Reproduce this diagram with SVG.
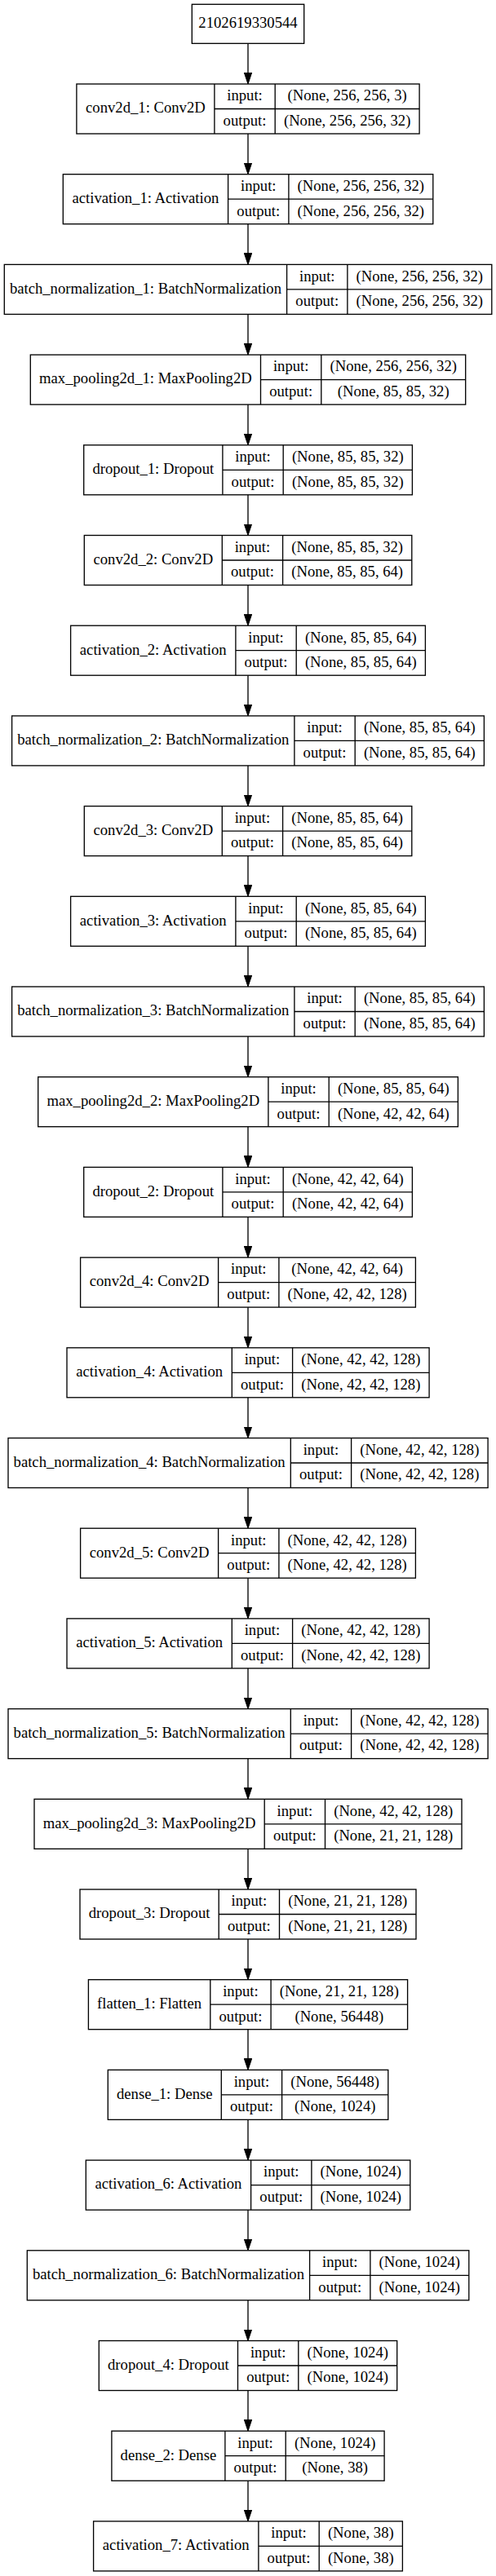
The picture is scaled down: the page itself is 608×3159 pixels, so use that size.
<svg xmlns="http://www.w3.org/2000/svg" width="608" height="3159" viewBox="0 0 608 3159">
<style>
.b{fill:#fff;stroke:#000;stroke-width:1.33}
.d{fill:none;stroke:#000;stroke-width:1.33}
.e{fill:none;stroke:#000;stroke-width:1.33;marker-end:url(#ah)}
text{font-family:"Liberation Serif","Times New Roman",serif;font-size:18.67px;text-anchor:middle;fill:#000}
</style>
<defs>
<marker id="ah" viewBox="0 0 14 10" refX="2" refY="5" markerWidth="14" markerHeight="10" markerUnits="userSpaceOnUse" orient="auto">
<path d="M0,0.3 L14,5 L0,9.7 z" fill="#000" stroke="#000" stroke-width="1"/>
</marker>
</defs>
<rect width="608" height="3159" fill="#fff"/>
<g id="edges">
<path class="e" d="M304 53.3V91"/>
<path class="e" d="M304 164V201.7"/>
<path class="e" d="M304 274.7V312.4"/>
<path class="e" d="M304 385.4V423.1"/>
<path class="e" d="M304 496.1V533.8"/>
<path class="e" d="M304 606.8V644.5"/>
<path class="e" d="M304 717.5V755.2"/>
<path class="e" d="M304 828.2V865.9"/>
<path class="e" d="M304 938.9V976.6"/>
<path class="e" d="M304 1049.6V1087.3"/>
<path class="e" d="M304 1160.3V1198"/>
<path class="e" d="M304 1271V1308.7"/>
<path class="e" d="M304 1381.7V1419.4"/>
<path class="e" d="M304 1492.4V1530.1"/>
<path class="e" d="M304 1603.1V1640.8"/>
<path class="e" d="M304 1713.8V1751.5"/>
<path class="e" d="M304 1824.5V1862.2"/>
<path class="e" d="M304 1935.2V1972.9"/>
<path class="e" d="M304 2045.9V2083.6"/>
<path class="e" d="M304 2156.6V2194.3"/>
<path class="e" d="M304 2267.3V2305"/>
<path class="e" d="M304 2378V2415.7"/>
<path class="e" d="M304 2488.7V2526.4"/>
<path class="e" d="M304 2599.4V2637.1"/>
<path class="e" d="M304 2710.1V2747.8"/>
<path class="e" d="M304 2820.8V2858.5"/>
<path class="e" d="M304 2931.5V2969.2"/>
<path class="e" d="M304 3042.2V3079.9"/>
</g>
<g id="input"><rect class="b" x="235.3" y="5.3" width="137.4" height="48"/><text x="304" y="34.3">2102619330544</text></g>

<g id="conv2d_1"><rect class="b" x="93.9" y="103" width="420.2" height="61"/><path class="d" d="M262.9 103V164M337.2 103V164M262.9 133.5H514.1"/>
<text x="178.4" y="138.3">conv2d_1: Conv2D</text><text x="300.05" y="123.3">input:</text><text x="300.05" y="153.8">output:</text><text x="425.65" y="123.3">(None, 256, 256, 3)</text><text x="425.65" y="153.8">(None, 256, 256, 32)</text></g>

<g id="activation_1"><rect class="b" x="77.3" y="213.7" width="453.5" height="61"/><path class="d" d="M279.6 213.7V274.7M353.9 213.7V274.7M279.6 244.2H530.8"/>
<text x="178.45" y="249">activation_1: Activation</text><text x="316.75" y="234">input:</text><text x="316.75" y="264.5">output:</text><text x="442.35" y="234">(None, 256, 256, 32)</text><text x="442.35" y="264.5">(None, 256, 256, 32)</text></g>

<g id="batch_normalization_1"><rect class="b" x="5.3" y="324.4" width="597.5" height="61"/><path class="d" d="M351.6 324.4V385.4M425.9 324.4V385.4M351.6 354.9H602.8"/>
<text x="178.45" y="359.7">batch_normalization_1: BatchNormalization</text><text x="388.75" y="344.7">input:</text><text x="388.75" y="375.2">output:</text><text x="514.35" y="344.7">(None, 256, 256, 32)</text><text x="514.35" y="375.2">(None, 256, 256, 32)</text></g>

<g id="max_pooling2d_1"><rect class="b" x="37.3" y="435.1" width="533.4" height="61"/><path class="d" d="M319.5 435.1V496.1M393.8 435.1V496.1M319.5 465.6H570.7"/>
<text x="178.4" y="470.4">max_pooling2d_1: MaxPooling2D</text><text x="356.65" y="455.4">input:</text><text x="356.65" y="485.9">output:</text><text x="482.25" y="455.4">(None, 256, 256, 32)</text><text x="482.25" y="485.9">(None, 85, 85, 32)</text></g>

<g id="dropout_1"><rect class="b" x="102.7" y="545.8" width="402.7" height="61"/><path class="d" d="M272.9 545.8V606.8M347.2 545.8V606.8M272.9 576.3H505.4"/>
<text x="187.8" y="581.1">dropout_1: Dropout</text><text x="310.05" y="566.1">input:</text><text x="310.05" y="596.6">output:</text><text x="426.3" y="566.1">(None, 85, 85, 32)</text><text x="426.3" y="596.6">(None, 85, 85, 32)</text></g>

<g id="conv2d_2"><rect class="b" x="103.3" y="656.5" width="401.5" height="61"/><path class="d" d="M272.3 656.5V717.5M346.6 656.5V717.5M272.3 687H504.8"/>
<text x="187.8" y="691.8">conv2d_2: Conv2D</text><text x="309.45" y="676.8">input:</text><text x="309.45" y="707.3">output:</text><text x="425.7" y="676.8">(None, 85, 85, 32)</text><text x="425.7" y="707.3">(None, 85, 85, 64)</text></g>

<g id="activation_2"><rect class="b" x="86.6" y="767.2" width="434.8" height="61"/><path class="d" d="M288.9 767.2V828.2M363.2 767.2V828.2M288.9 797.7H521.4"/>
<text x="187.75" y="802.5">activation_2: Activation</text><text x="326.05" y="787.5">input:</text><text x="326.05" y="818">output:</text><text x="442.3" y="787.5">(None, 85, 85, 64)</text><text x="442.3" y="818">(None, 85, 85, 64)</text></g>

<g id="batch_normalization_2"><rect class="b" x="14.6" y="877.9" width="578.8" height="61"/><path class="d" d="M360.9 877.9V938.9M435.2 877.9V938.9M360.9 908.4H593.4"/>
<text x="187.75" y="913.2">batch_normalization_2: BatchNormalization</text><text x="398.05" y="898.2">input:</text><text x="398.05" y="928.7">output:</text><text x="514.3" y="898.2">(None, 85, 85, 64)</text><text x="514.3" y="928.7">(None, 85, 85, 64)</text></g>

<g id="conv2d_3"><rect class="b" x="103.3" y="988.6" width="401.5" height="61"/><path class="d" d="M272.3 988.6V1049.6M346.6 988.6V1049.6M272.3 1019.1H504.8"/>
<text x="187.8" y="1023.9">conv2d_3: Conv2D</text><text x="309.45" y="1008.9">input:</text><text x="309.45" y="1039.4">output:</text><text x="425.7" y="1008.9">(None, 85, 85, 64)</text><text x="425.7" y="1039.4">(None, 85, 85, 64)</text></g>

<g id="activation_3"><rect class="b" x="86.6" y="1099.3" width="434.8" height="61"/><path class="d" d="M288.9 1099.3V1160.3M363.2 1099.3V1160.3M288.9 1129.8H521.4"/>
<text x="187.75" y="1134.6">activation_3: Activation</text><text x="326.05" y="1119.6">input:</text><text x="326.05" y="1150.1">output:</text><text x="442.3" y="1119.6">(None, 85, 85, 64)</text><text x="442.3" y="1150.1">(None, 85, 85, 64)</text></g>

<g id="batch_normalization_3"><rect class="b" x="14.6" y="1210" width="578.8" height="61"/><path class="d" d="M360.9 1210V1271M435.2 1210V1271M360.9 1240.5H593.4"/>
<text x="187.75" y="1245.3">batch_normalization_3: BatchNormalization</text><text x="398.05" y="1230.3">input:</text><text x="398.05" y="1260.8">output:</text><text x="514.3" y="1230.3">(None, 85, 85, 64)</text><text x="514.3" y="1260.8">(None, 85, 85, 64)</text></g>

<g id="max_pooling2d_2"><rect class="b" x="46.7" y="1320.7" width="514.7" height="61"/><path class="d" d="M328.9 1320.7V1381.7M403.2 1320.7V1381.7M328.9 1351.2H561.4"/>
<text x="187.8" y="1356">max_pooling2d_2: MaxPooling2D</text><text x="366.05" y="1341">input:</text><text x="366.05" y="1371.5">output:</text><text x="482.3" y="1341">(None, 85, 85, 64)</text><text x="482.3" y="1371.5">(None, 42, 42, 64)</text></g>

<g id="dropout_2"><rect class="b" x="102.7" y="1431.4" width="402.7" height="61"/><path class="d" d="M272.9 1431.4V1492.4M347.2 1431.4V1492.4M272.9 1461.9H505.4"/>
<text x="187.8" y="1466.7">dropout_2: Dropout</text><text x="310.05" y="1451.7">input:</text><text x="310.05" y="1482.2">output:</text><text x="426.3" y="1451.7">(None, 42, 42, 64)</text><text x="426.3" y="1482.2">(None, 42, 42, 64)</text></g>

<g id="conv2d_4"><rect class="b" x="98.6" y="1542.1" width="410.8" height="61"/><path class="d" d="M267.6 1542.1V1603.1M341.9 1542.1V1603.1M267.6 1572.6H509.4"/>
<text x="183.1" y="1577.4">conv2d_4: Conv2D</text><text x="304.75" y="1562.4">input:</text><text x="304.75" y="1592.9">output:</text><text x="425.65" y="1562.4">(None, 42, 42, 64)</text><text x="425.65" y="1592.9">(None, 42, 42, 128)</text></g>

<g id="activation_4"><rect class="b" x="82" y="1652.8" width="444.1" height="61"/><path class="d" d="M284.3 1652.8V1713.8M358.6 1652.8V1713.8M284.3 1683.3H526.1"/>
<text x="183.15" y="1688.1">activation_4: Activation</text><text x="321.45" y="1673.1">input:</text><text x="321.45" y="1703.6">output:</text><text x="442.35" y="1673.1">(None, 42, 42, 128)</text><text x="442.35" y="1703.6">(None, 42, 42, 128)</text></g>

<g id="batch_normalization_4"><rect class="b" x="10" y="1763.5" width="588.1" height="61"/><path class="d" d="M356.3 1763.5V1824.5M430.6 1763.5V1824.5M356.3 1794H598.1"/>
<text x="183.15" y="1798.8">batch_normalization_4: BatchNormalization</text><text x="393.45" y="1783.8">input:</text><text x="393.45" y="1814.3">output:</text><text x="514.35" y="1783.8">(None, 42, 42, 128)</text><text x="514.35" y="1814.3">(None, 42, 42, 128)</text></g>

<g id="conv2d_5"><rect class="b" x="98.6" y="1874.2" width="410.8" height="61"/><path class="d" d="M267.6 1874.2V1935.2M341.9 1874.2V1935.2M267.6 1904.7H509.4"/>
<text x="183.1" y="1909.5">conv2d_5: Conv2D</text><text x="304.75" y="1894.5">input:</text><text x="304.75" y="1925">output:</text><text x="425.65" y="1894.5">(None, 42, 42, 128)</text><text x="425.65" y="1925">(None, 42, 42, 128)</text></g>

<g id="activation_5"><rect class="b" x="82" y="1984.9" width="444.1" height="61"/><path class="d" d="M284.3 1984.9V2045.9M358.6 1984.9V2045.9M284.3 2015.4H526.1"/>
<text x="183.15" y="2020.2">activation_5: Activation</text><text x="321.45" y="2005.2">input:</text><text x="321.45" y="2035.7">output:</text><text x="442.35" y="2005.2">(None, 42, 42, 128)</text><text x="442.35" y="2035.7">(None, 42, 42, 128)</text></g>

<g id="batch_normalization_5"><rect class="b" x="10" y="2095.6" width="588.1" height="61"/><path class="d" d="M356.3 2095.6V2156.6M430.6 2095.6V2156.6M356.3 2126.1H598.1"/>
<text x="183.15" y="2130.9">batch_normalization_5: BatchNormalization</text><text x="393.45" y="2115.9">input:</text><text x="393.45" y="2146.4">output:</text><text x="514.35" y="2115.9">(None, 42, 42, 128)</text><text x="514.35" y="2146.4">(None, 42, 42, 128)</text></g>

<g id="max_pooling2d_3"><rect class="b" x="42" y="2206.3" width="524" height="61"/><path class="d" d="M324.2 2206.3V2267.3M398.5 2206.3V2267.3M324.2 2236.8H566"/>
<text x="183.1" y="2241.6">max_pooling2d_3: MaxPooling2D</text><text x="361.35" y="2226.6">input:</text><text x="361.35" y="2257.1">output:</text><text x="482.25" y="2226.6">(None, 42, 42, 128)</text><text x="482.25" y="2257.1">(None, 21, 21, 128)</text></g>

<g id="dropout_3"><rect class="b" x="98" y="2317" width="412" height="61"/><path class="d" d="M268.2 2317V2378M342.5 2317V2378M268.2 2347.5H510"/>
<text x="183.1" y="2352.3">dropout_3: Dropout</text><text x="305.35" y="2337.3">input:</text><text x="305.35" y="2367.8">output:</text><text x="426.25" y="2337.3">(None, 21, 21, 128)</text><text x="426.25" y="2367.8">(None, 21, 21, 128)</text></g>

<g id="flatten_1"><rect class="b" x="108.4" y="2427.7" width="391.2" height="61"/><path class="d" d="M257.8 2427.7V2488.7M332.1 2427.7V2488.7M257.8 2458.2H499.6"/>
<text x="183.1" y="2463">flatten_1: Flatten</text><text x="294.95" y="2448">input:</text><text x="294.95" y="2478.5">output:</text><text x="415.85" y="2448">(None, 21, 21, 128)</text><text x="415.85" y="2478.5">(None, 56448)</text></g>

<g id="dense_1"><rect class="b" x="132.3" y="2538.4" width="343.5" height="61"/><path class="d" d="M271.3 2538.4V2599.4M345.6 2538.4V2599.4M271.3 2568.9H475.8"/>
<text x="201.8" y="2573.7">dense_1: Dense</text><text x="308.45" y="2558.7">input:</text><text x="308.45" y="2589.2">output:</text><text x="410.7" y="2558.7">(None, 56448)</text><text x="410.7" y="2589.2">(None, 1024)</text></g>

<g id="activation_6"><rect class="b" x="105.3" y="2649.1" width="397.5" height="61"/><path class="d" d="M307.6 2649.1V2710.1M381.9 2649.1V2710.1M307.6 2679.6H502.8"/>
<text x="206.45" y="2684.4">activation_6: Activation</text><text x="344.75" y="2669.4">input:</text><text x="344.75" y="2699.9">output:</text><text x="442.35" y="2669.4">(None, 1024)</text><text x="442.35" y="2699.9">(None, 1024)</text></g>

<g id="batch_normalization_6"><rect class="b" x="33.3" y="2759.8" width="541.5" height="61"/><path class="d" d="M379.6 2759.8V2820.8M453.9 2759.8V2820.8M379.6 2790.3H574.8"/>
<text x="206.45" y="2795.1">batch_normalization_6: BatchNormalization</text><text x="416.75" y="2780.1">input:</text><text x="416.75" y="2810.6">output:</text><text x="514.35" y="2780.1">(None, 1024)</text><text x="514.35" y="2810.6">(None, 1024)</text></g>

<g id="dropout_4"><rect class="b" x="121.3" y="2870.5" width="365.4" height="61"/><path class="d" d="M291.5 2870.5V2931.5M365.8 2870.5V2931.5M291.5 2901H486.7"/>
<text x="206.4" y="2905.8">dropout_4: Dropout</text><text x="328.65" y="2890.8">input:</text><text x="328.65" y="2921.3">output:</text><text x="426.25" y="2890.8">(None, 1024)</text><text x="426.25" y="2921.3">(None, 1024)</text></g>

<g id="dense_2"><rect class="b" x="136.9" y="2981.2" width="334.2" height="61"/><path class="d" d="M275.9 2981.2V3042.2M350.2 2981.2V3042.2M275.9 3011.7H471.1"/>
<text x="206.4" y="3016.5">dense_2: Dense</text><text x="313.05" y="3001.5">input:</text><text x="313.05" y="3032">output:</text><text x="410.65" y="3001.5">(None, 1024)</text><text x="410.65" y="3032">(None, 38)</text></g>

<g id="activation_7"><rect class="b" x="114.6" y="3091.9" width="378.8" height="61"/><path class="d" d="M316.9 3091.9V3152.9M391.2 3091.9V3152.9M316.9 3122.4H493.4"/>
<text x="215.75" y="3127.2">activation_7: Activation</text><text x="354.05" y="3112.2">input:</text><text x="354.05" y="3142.7">output:</text><text x="442.3" y="3112.2">(None, 38)</text><text x="442.3" y="3142.7">(None, 38)</text></g>
</svg>
